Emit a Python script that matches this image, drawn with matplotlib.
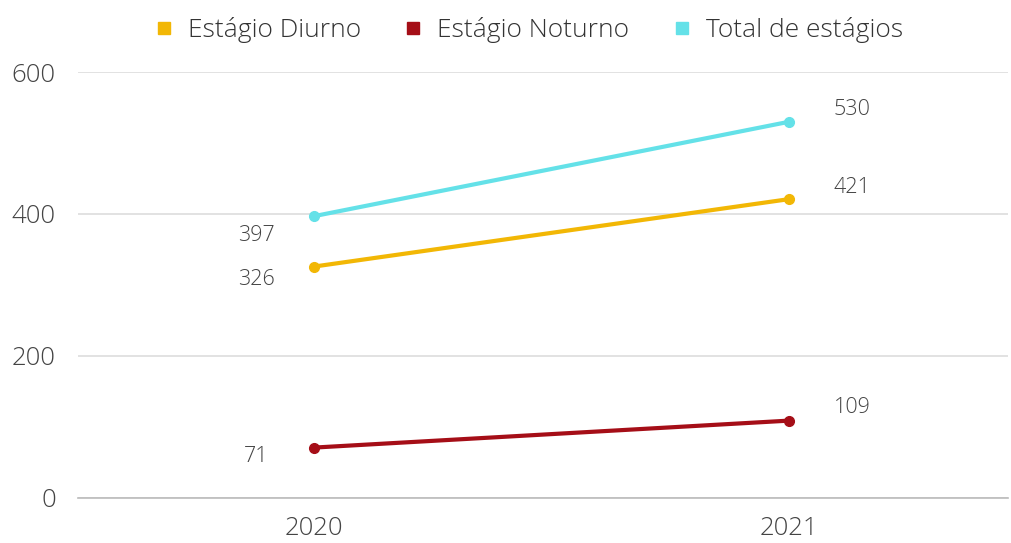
import matplotlib
matplotlib.use("Agg")
import matplotlib.pyplot as plt
from matplotlib.lines import Line2D

plt.rcParams['font.family'] = ['Open Sans', 'DejaVu Sans']

years = ["2020", "2021"]
diurno = [326, 421]
noturno = [71, 109]
total = [397, 530]
series_names = ["Estágio Diurno", "Estágio Noturno", "Total de estágios"]
yticks = [0, 200, 400, 600]

colors = ["#F2B705", "#A50E17", "#64E1E8"]
text_color = "#444444"

fig = plt.figure(figsize=(10.11, 5.43), dpi=100)
ax = fig.add_axes([0.0772, 0.0829, 0.9198, 0.7845])

x = list(range(len(years)))
all_series = [diurno, noturno, total]
# label offsets in pixels (dx, dy) for first and second points
offsets = {
    0: [(-58, -13), (63, 12)],
    1: [(-58, -9), (63, 13)],
    2: [(-58, -19), (63, 12)],
}
for i, (vals, c) in enumerate(zip(all_series, colors)):
    ax.plot(x, vals, color=c, lw=3, marker='o', ms=7, solid_capstyle='round', zorder=3)
    for j, v in enumerate(vals):
        dx, dy = offsets[i][j]
        ax.annotate(str(v), (x[j], v), xytext=(dx * 0.72, dy * 0.72), textcoords='offset points',
                    ha='center', va='center', fontsize=15.5, color=text_color, fontweight=300)

ax.set_xlim(-0.497, 1.46)
ax.set_ylim(0, 600)
ax.set_yticks(yticks)
ax.set_xticks(x)
ax.set_xticklabels(years)
ax.yaxis.grid(True, color="#DDDDDD", lw=1.2)
ax.set_axisbelow(True)
for s in ["top", "right", "left"]:
    ax.spines[s].set_visible(False)
ax.spines["bottom"].set_color("#BBBBBB")
ax.spines["bottom"].set_linewidth(1.2)
ax.tick_params(axis='both', length=0, labelsize=18.5, colors=text_color)
for lbl in ax.get_xticklabels() + ax.get_yticklabels():
    lbl.set_fontweight(300)
ax.tick_params(axis='y', pad=16)
ax.tick_params(axis='x', pad=13)

handles = [Line2D([0], [0], marker='s', color='none', markerfacecolor=c, markeredgecolor=c, markersize=9)
           for c in colors]
leg = fig.legend(handles, series_names, loc='center', bbox_to_anchor=(0.521, 0.944), ncol=3,
                 frameon=False, fontsize=19, handletextpad=0.4, columnspacing=1.5, labelcolor="#333333",
                 handlelength=1.0)
for t in leg.get_texts():
    t.set_fontweight(300)

fig.savefig("out.png", dpi=100, facecolor="white")
